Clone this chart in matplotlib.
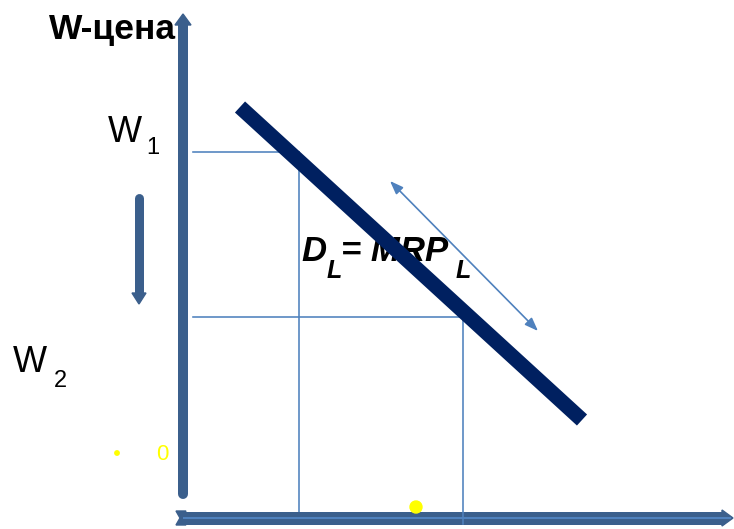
import matplotlib
matplotlib.use("Agg")
import matplotlib.pyplot as plt
from matplotlib.patches import Polygon, Circle

# Diagram data (pixel-space coordinates of the schematic)
demand_x = [240, 582]
demand_y = [107, 420]
w1_level = 152
w1_qty = 299
w2_level = 317
w2_qty = 463
labels = ["W-цена", "W", "1", "W", "2", "0"]

AXIS = "#3B5F8C"
NAVY = "#002060"
GUIDE = "#4F81BD"
YEL = "#FFFF00"
PX = 0.72  # points per pixel at dpi 100

fig = plt.figure(figsize=(7.34, 5.29), dpi=100)
ax = fig.add_axes([0, 0, 1, 1])
ax.set_xlim(0, 734)
ax.set_ylim(529, 0)
ax.axis("off")

# vertical axis
ax.plot([183, 183], [494, 24], color=AXIS, lw=10 * PX, solid_capstyle="round", zorder=3)
ax.add_patch(Polygon([[175, 25], [191, 25], [183, 14]], closed=True, color=AXIS, zorder=3))

# horizontal axis
ax.plot([180, 724], [518, 518], color=AXIS, lw=13 * PX, solid_capstyle="butt", zorder=3)
ax.add_patch(Polygon([[722, 510], [733, 518], [722, 526]], closed=True, color=AXIS, zorder=3))
ax.add_patch(Polygon([[176, 511], [186, 511], [182, 518], [186, 525], [176, 525], [180, 518]],
                     closed=True, color=AXIS, zorder=3))
ax.plot([184, 730], [518, 518], color=GUIDE, lw=2 * PX, zorder=4)

# guide lines
ax.plot([193, w1_qty], [w1_level, w1_level], color=GUIDE, lw=1.6 * PX, zorder=2)
ax.plot([w1_qty, w1_qty], [w1_level, 512], color=GUIDE, lw=1.6 * PX, zorder=2)
ax.plot([193, w2_qty], [w2_level, w2_level], color=GUIDE, lw=1.6 * PX, zorder=2)
ax.plot([w2_qty, w2_qty], [w2_level, 524], color=GUIDE, lw=1.6 * PX, zorder=5)

# down arrow (wage falls)
ax.plot([139, 139], [198, 294], color=AXIS, lw=9 * PX, solid_capstyle="round", zorder=3)
ax.add_patch(Polygon([[132, 293], [146, 293], [139, 304]], closed=True, color=AXIS, zorder=3))

# labels
ax.text(49, 30, labels[0], fontsize=25.5, fontweight="bold", family="Liberation Sans",
        ha="left", va="center", zorder=6)
ax.text(108, 132, labels[1], fontsize=26, family="Liberation Sans", ha="left", va="center")
ax.text(146, 148, labels[2], fontsize=17, family="Liberation Sans", ha="left", va="center")
ax.text(13, 363, labels[3], fontsize=26, family="Liberation Sans", ha="left", va="center")
ax.text(54, 381, labels[4], fontsize=17, family="Liberation Sans", ha="left", va="center")
ax.text(156, 455, labels[5], fontsize=16, family="Liberation Sans", color=YEL, ha="left", va="center")
ax.add_patch(Circle((117, 453), 2.2, color=YEL, zorder=6))
ax.add_patch(Circle((416, 507), 6, color=YEL, zorder=6))

# D_L = MRP_L
tk = dict(fontweight="bold", style="italic", family="Liberation Sans", zorder=4)
ax.text(301, 261, "D", fontsize=25, ha="left", va="baseline", **tk)
ax.text(327, 278, "L", fontsize=18, ha="left", va="baseline", **tk)
ax.text(341, 261, "= MRP", fontsize=25, ha="left", va="baseline", **tk)
ax.text(456, 278, "L", fontsize=18, ha="left", va="baseline", **tk)

# demand line
ax.plot(demand_x, demand_y, color=NAVY, lw=15 * PX, solid_capstyle="butt", zorder=5)

# double-headed arrow
ax.annotate("", xy=(538, 331), xytext=(390, 181),
            arrowprops=dict(arrowstyle="<|-|>,head_length=0.8,head_width=0.3",
                            color=GUIDE, lw=1.2, shrinkA=0, shrinkB=0), zorder=6)

fig.savefig("out.png", dpi=100)
